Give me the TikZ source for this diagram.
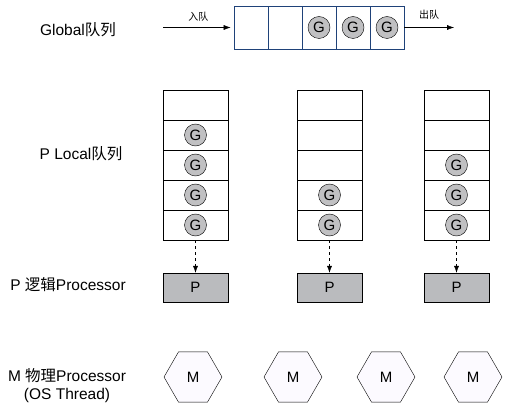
\documentclass[tikz,border=0pt]{standalone}
\usepackage{fontspec}
\setmainfont{Liberation Sans}
\newfontfamily\cjk{Noto Sans CJK SC}
\usetikzlibrary{shapes.geometric,arrows.meta}
\definecolor{qblue}{RGB}{31,66,121}
\definecolor{ggray}{RGB}{192,192,194}
\definecolor{pgray}{RGB}{186,187,190}
\definecolor{mfill}{RGB}{252,250,255}
\begin{document}
\begin{tikzpicture}[x=1pt,y=-1pt,
        gcell/.style={draw=qblue,thick,minimum width=34pt,minimum height=43pt,inner sep=0pt},
        lcell/.style={draw,semithick,minimum width=65pt,minimum height=30pt,inner sep=0pt},
        gor/.style={circle,draw,fill=ggray,minimum size=22pt,inner sep=0pt,font=\fontsize{15}{15}\selectfont},
        pbox/.style={draw,fill=pgray,minimum width=65pt,minimum height=29pt,inner sep=0pt,font=\fontsize{15}{15}\selectfont},
        mhex/.style={regular polygon,regular polygon sides=6,draw,fill=mfill,minimum size=58pt,inner sep=0pt,font=\fontsize{15}{15}\selectfont},
        lbl/.style={font=\fontsize{15.5}{18}\selectfont,align=center},
        small/.style={font=\fontsize{10}{10}\selectfont\cjk},
        >={Latex[length=7pt,width=5pt]}]
        \useasboundingbox (0,0) rectangle (506,409);
        % global queue
        \foreach \i in {1,...,5}
                \node[gcell] (g\i) at ({217+34*\i},27.5) {};
        \foreach \i in {3,4,5}
                \node[gor] (gg\i) at (g\i) {G};
        \coordinate (in) at (163,27.5);
        \coordinate (out) at (454,27.5);
        \draw[->, shorten >=3pt] (in) -- node[small, above=3pt]{入队} (g1.west);
        \draw[->] (g5.east) -- node[small, above=5pt]{出队} (out);
        % local queues
        \foreach \c/\x in {1/195.5, 2/329.5, 3/456.5} {
                \foreach \r in {1,...,5}
                        \node[lcell] (l\c\r) at (\x,{75+30*\r}) {};
                \node[pbox] (p\c) at (\x,287.5) {P};
                \draw[dashed,->] (l\c5.south) -- (p\c.north);
        }
        \foreach \c/\r in {1/2, 1/3, 1/4, 1/5, 2/4, 2/5, 3/3, 3/4, 3/5}
                \node[gor] (lg\c\r) at (l\c\r) {G};
        % machines
        \foreach \i/\x in {1/193, 2/293, 3/386, 4/473}
                \node[mhex] (m\i) at (\x,377) {M};
        % left labels
        \node[lbl] (tglobal) at (78,29.5) {Global{\cjk 队列}};
        \node[lbl] (tlocal) at (81,154) {P Local{\cjk 队列}};
        \node[lbl] (tp) at (68,285) {P {\cjk 逻辑}Processor};
        \node[lbl] (tm) at (67,386) {M {\cjk 物理}Processor\\(OS Thread)};
\end{tikzpicture}
\end{document}
